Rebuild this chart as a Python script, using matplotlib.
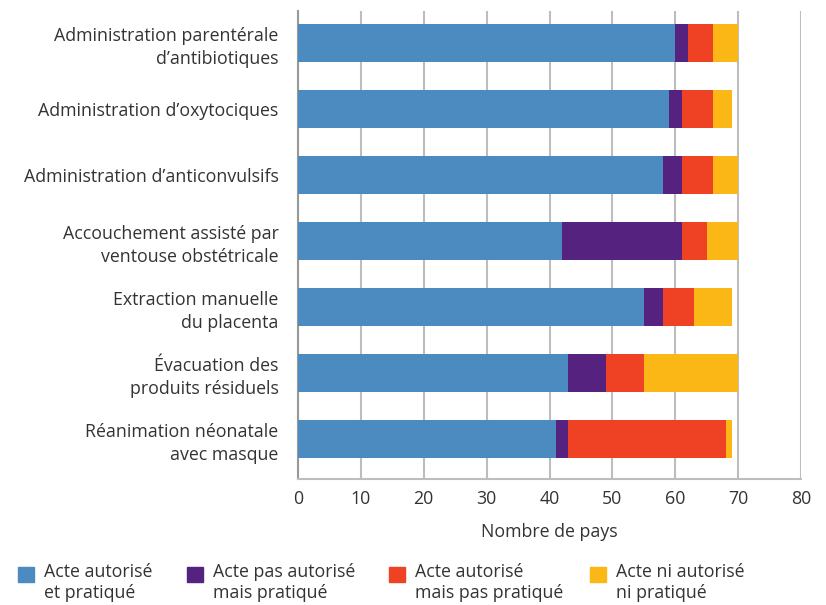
import matplotlib.pyplot as plt
import matplotlib.patches as mpatches
import numpy as np

plt.rcParams['font.family'] = ['Open Sans', 'DejaVu Sans']

# données
actes = ["Administration parentérale\nd\u2019antibiotiques",
         "Administration d\u2019oxytociques",
         "Administration d\u2019anticonvulsifs",
         "Accouchement assisté par\nventouse obstétricale",
         "Extraction manuelle\ndu placenta",
         "Évacuation des\nproduits résiduels",
         "Réanimation néonatale\navec masque"]
autorise_pratique = [60, 59, 58, 42, 55, 43, 41]
pas_autorise_pratique = [2, 2, 3, 19, 3, 6, 2]
autorise_pas_pratique = [4, 5, 5, 4, 5, 6, 25]
ni_autorise_ni_pratique = [4, 3, 4, 5, 6, 15, 1]

series = [autorise_pratique, pas_autorise_pratique,
          autorise_pas_pratique, ni_autorise_ni_pratique]
noms = ["Acte autorisé\net pratiqué", "Acte pas autorisé\nmais pratiqué",
        "Acte autorisé\nmais pas pratiqué", "Acte ni autorisé\nni pratiqué"]
couleurs = ["#4C8BBF", "#55237F", "#EF4123", "#FBB715"]

texte = "#333333"
taille = 12.8

fig = plt.figure(figsize=(8.26, 6.05), dpi=100)
ax = fig.add_axes([298/826, 1-479/605, 503/826, 468/605])

# barres empilées
y = np.arange(len(actes))
gauche = np.zeros(len(actes))
for vals, c in zip(series, couleurs):
    ax.barh(y, vals, left=gauche, height=0.58, color=c, zorder=3)
    gauche += np.array(vals)

# axes et grille
ax.set_xlim(0, 80)
ax.set_ylim(6.606, -0.485)
ax.set_xticks(np.arange(0, 81, 10))
ax.set_yticks(y)
ax.set_yticklabels(actes, fontsize=taille, color=texte, linespacing=1.35)
ax.tick_params(axis='y', length=0, pad=14)
ax.tick_params(axis='x', length=0, pad=8, labelsize=taille, labelcolor=texte)
ax.grid(axis='x', color='#BDBDBD', linewidth=1.5, zorder=0)
for s in ['top', 'right']:
    ax.spines[s].set_visible(False)
ax.spines['left'].set_color('#999999')
ax.spines['left'].set_linewidth(1.5)
ax.spines['bottom'].set_color('#BDBDBD')
ax.spines['bottom'].set_linewidth(1.5)
ax.set_xlabel("Nombre de pays", fontsize=taille, color=texte, labelpad=11)

# légende
xs = [18, 187, 389, 590]
for x0, nom, c in zip(xs, noms, couleurs):
    fig.patches.append(mpatches.Rectangle((x0/826, 1-582/605), 16/826, 15/605,
                                          color=c, transform=fig.transFigure))
    fig.text((x0+26)/826, 1-563/605, nom, fontsize=taille, color=texte,
             va='top', ha='left', linespacing=1.25)

plt.savefig("out.png", dpi=100)
